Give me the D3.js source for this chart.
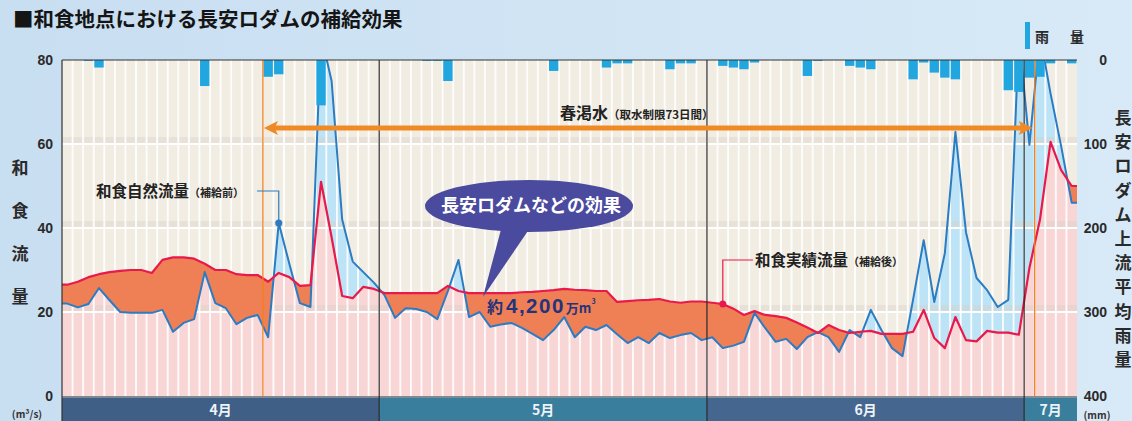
<!DOCTYPE html>
<html>
<head>
<meta charset="utf-8">
<script src="https://cdn.jsdelivr.net/npm/d3@7"></script>
<style>
  body { margin: 0; background: #cfe4f4; }
  svg { display: block; font-family: "Noto Sans CJK JP", "Noto Sans", sans-serif; }
</style>
</head>
<body>
<svg id="chart" width="1132" height="421"></svg>
<script>
// daily values, April 1 -> July 5
const months = ['4月', '5月', '6月', '7月'];
const monthDays = [30, 31, 30, 5];
const leftTicks = [0, 20, 40, 60, 80];
const rightTicks = [0, 100, 200, 300, 400];

// 和食実績流量（補給後） m3/s
const actualFlow = [
  26.5, 27.2, 28.3, 29, 29.5, 29.8, 30, 30, 29.3, 32.4,
  33, 33, 32.7, 31.5, 30, 30, 29, 28.8, 28.8, 27.2,
  29.3, 28.3, 26.2, 26.4, 51, 37.8, 23.8, 23.3, 26, 25.5,
  24.5, 24.5, 24.5, 24.5, 24.5, 24.5, 26.2, 25, 24.5, 24.5,
  24.5, 24.5, 24.5, 24.7, 24.8, 25, 25.2, 25.5, 25.3, 25.2,
  25, 25, 22.4, 22.6, 22.8, 22.9, 23.1, 22.5, 22.2, 22.5,
  22.5, 22.2, 21.9, 20.8, 19.3, 20.2, 19.3, 19, 18.6, 17.5,
  16.3, 15, 16.9, 15.7, 15, 15.3, 15.5, 14.8, 14.8, 14.8,
  15.3, 20.5, 13.8, 11.4, 18.8, 13.3, 13, 15.5, 15.1, 15.1,
  14.6, 30.5, 42, 60.5, 53.8, 50
];

// 和食自然流量（補給前） m3/s
const naturalFlow = [
  22, 21.1, 21.9, 25.7, 22.8, 20, 19.8, 19.8, 19.8, 20.5,
  15.3, 17.4, 18.3, 29.5, 22.1, 20.9, 17.1, 18.6, 19.3, 14,
  41.2, 31.5, 22.1, 21.2, 86, 75, 42, 32, 29.5, 27,
  24, 18.6, 20.9, 20.7, 20, 18.3, 25, 32.4, 18.8, 20,
  16.5, 17, 17.4, 16.2, 14.8, 13.3, 15.7, 18.8, 14, 16.5,
  15.7, 16.9, 14.7, 12.6, 14, 12.6, 15, 13.8, 14.5, 15,
  13.3, 14, 11.4, 12, 12.9, 19.8, 16.2, 12.9, 13.6, 11.2,
  14, 15.2, 14, 10.5, 15.7, 14, 20.5, 15.7, 11.4, 9.5,
  23, 37.1, 22.4, 34, 62.9, 39, 28.1, 25.2, 21.2, 22.9,
  86, 59.8, 86, 72, 59.5, 46
];

// 長安口ダム上流平均雨量 mm
const rainfall = [
  0, 0, 1, 9, 0, 0, 0, 0, 0, 0,
  0, 0, 0, 31, 0, 0, 0, 0, 0, 20,
  17, 0, 0, 0, 54, 0, 0, 0, 0, 0,
  0, 0, 0, 0, 1, 1, 25, 0, 0, 0,
  0, 0, 0, 0, 0, 0, 13, 0, 0, 0,
  0, 9, 4, 4, 0, 0, 0, 11, 4, 4,
  0, 0, 7, 9, 11, 3, 0, 0, 0, 0,
  19, 1, 0, 0, 7, 9, 11, 0, 0, 0,
  23, 3, 15, 21, 23, 0, 0, 0, 0, 36,
  38, 21, 20, 4, 0, 4
];

const nDays = d3.sum(monthDays);
const svg = d3.select('#chart');
const pL = 62, pR = 1077, pT = 60, pB = 396;

const x = d3.scaleLinear().domain([0, nDays]).range([pL, pR]);
const yL = d3.scaleLinear().domain([0, 80]).range([pB, pT]);
const yR = d3.scaleLinear().domain([0, 400]).range([pT, pB]);

const defs = svg.append('defs');
const bg = defs.append('linearGradient').attr('id', 'pagebg').attr('x1', 0).attr('x2', 1).attr('y1', 0).attr('y2', 0);
bg.append('stop').attr('offset', '0%').attr('stop-color', '#c8def1');
bg.append('stop').attr('offset', '100%').attr('stop-color', '#d8eaf7');
svg.append('rect').attr('width', 1132).attr('height', 421).attr('fill', 'url(#pagebg)');

defs.append('clipPath').attr('id', 'plotclip').append('rect')
  .attr('x', pL).attr('y', pT).attr('width', pR - pL).attr('height', pB - pT);

// points at day centres, series held flat out to the plot edges
const toPts = arr => [[0, arr[0]]].concat(arr.map((v, i) => [i + 0.5, v]), [[nDays, arr[arr.length - 1]]]);
const actPts = toPts(actualFlow), natPts = toPts(naturalFlow);

const area0 = d3.area().x(d => x(d[0])).y0(pB).y1(d => yL(d[1]));
const areaTop = d3.area().x(d => x(d[0])).y0(pT - 40).y1(d => yL(d[1]));
const between = d3.area().x(d => x(d[0])).y0((d, i) => yL(natPts[i][1])).y1(d => yL(d[1]));
const line = d3.line().x(d => x(d[0])).y(d => yL(d[1]));

defs.append('clipPath').attr('id', 'belowRed').append('path').attr('d', area0(actPts));
defs.append('clipPath').attr('id', 'aboveRed').append('path').attr('d', areaTop(actPts));

const plot = svg.append('g').attr('clip-path', 'url(#plotclip)');

// cream background
plot.append('rect').attr('x', pL).attr('y', pT).attr('width', pR - pL).attr('height', pB - pT)
  .attr('fill', '#f2ede3');

// pink under actual flow
plot.append('path').attr('d', area0(actPts)).attr('fill', '#f9d6d6');
// light blue where natural > actual
plot.append('g').attr('clip-path', 'url(#aboveRed)')
  .append('path').attr('d', between(actPts)).attr('fill', '#bde3f6');

// horizontal grid
leftTicks.filter(d => d > 0 && d < 80).forEach(t => {
  plot.append('rect').attr('x', pL).attr('y', yL(t) - 7).attr('width', pR - pL).attr('height', 7)
    .attr('fill', '#d6d0c7').attr('opacity', 0.4);
  plot.append('line').attr('x1', pL).attr('x2', pR).attr('y1', yL(t)).attr('y2', yL(t))
    .attr('stroke', '#ffffff').attr('stroke-width', 2);
});

// day stripes
plot.selectAll('.stripe').data(d3.range(1, nDays)).join('line')
  .attr('class', 'stripe')
  .attr('x1', d => x(d)).attr('x2', d => x(d))
  .attr('y1', pT).attr('y2', pB)
  .attr('stroke', '#ffffff').attr('stroke-width', 1.9).attr('opacity', 0.9);

// orange where actual > natural
plot.append('g').attr('clip-path', 'url(#belowRed)')
  .append('path').attr('d', between(actPts)).attr('fill', '#ef7f55');

// lines
plot.append('path').attr('d', line(natPts)).attr('fill', 'none')
  .attr('stroke', '#2b7cc2').attr('stroke-width', 2).attr('stroke-linejoin', 'round');
plot.append('path').attr('d', line(actPts)).attr('fill', 'none')
  .attr('stroke', '#e8194b').attr('stroke-width', 2.2).attr('stroke-linejoin', 'round');

// rainfall bars hanging from top
plot.selectAll('.rain').data(rainfall).join('rect')
  .attr('class', 'rain')
  .attr('x', (d, i) => x(i) + 0.6)
  .attr('width', x(1) - x(0) - 1.2)
  .attr('y', pT)
  .attr('height', d => yR(d) - pT)
  .attr('fill', '#22a6df');

// drought period lines
const droughtStart = 19, droughtEnd = 92;
[droughtStart, droughtEnd].forEach(d => {
  svg.append('line').attr('x1', x(d)).attr('x2', x(d)).attr('y1', pT).attr('y2', pB)
    .attr('stroke', '#f07f1c').attr('stroke-width', 1.3);
});

// month bar
const starts = monthDays.map((d, i) => d3.sum(monthDays.slice(0, i)));
const monthColors = ['#3f5f87', '#3a7e9d', '#45678f', '#3a7e9d'];
svg.selectAll('.mbar').data(months).join('rect')
  .attr('class', 'mbar')
  .attr('x', (d, i) => x(starts[i])).attr('y', 398)
  .attr('width', (d, i) => x(starts[i] + monthDays[i]) - x(starts[i])).attr('height', 23)
  .attr('fill', (d, i) => monthColors[i]);
svg.selectAll('.mlabel').data(months).join('text')
  .attr('class', 'mlabel')
  .attr('x', (d, i) => x(starts[i] + monthDays[i] / 2)).attr('y', 415)
  .attr('text-anchor', 'middle').attr('fill', '#eef3f8')
  .attr('font-size', 14).attr('font-weight', 'bold').text(d => d);

// frame
svg.append('line').attr('x1', pL).attr('x2', pR).attr('y1', pT).attr('y2', pT)
  .attr('stroke', '#333').attr('stroke-width', 1.2);
svg.append('line').attr('x1', pL).attr('x2', pL).attr('y1', pT).attr('y2', 421)
  .attr('stroke', '#333').attr('stroke-width', 1.2);
svg.append('line').attr('x1', pL).attr('x2', pR).attr('y1', 397).attr('y2', 397)
  .attr('stroke', '#333').attr('stroke-width', 1.2);
starts.slice(1).forEach(s => {
  svg.append('line').attr('x1', x(s)).attr('x2', x(s)).attr('y1', pT).attr('y2', 421)
    .attr('stroke', '#2a2a2a').attr('stroke-width', 1.2);
});

// axes
const axL = svg.append('g').attr('transform', `translate(${pL},0)`)
  .call(d3.axisLeft(yL).tickValues(leftTicks).tickSize(0).tickPadding(9));
const axR = svg.append('g').attr('transform', `translate(${pR},0)`)
  .call(d3.axisRight(yR).tickValues(rightTicks).tickSize(0).tickPadding(30));
[axL, axR].forEach(a => {
  a.select('.domain').remove();
  a.selectAll('text').attr('font-family', '"Liberation Sans", Arial, sans-serif')
    .attr('font-weight', 'bold').attr('font-size', 14).attr('fill', '#2a2a2a');
});
axR.selectAll('text').attr('text-anchor', 'end');

svg.append('text').attr('x', 27).attr('y', 418).attr('text-anchor', 'middle')
  .attr('font-size', 10).attr('font-weight', 'bold').attr('fill', '#333').text('(m³/s)');
svg.append('text').attr('x', 1097).attr('y', 419).attr('text-anchor', 'middle')
  .attr('font-size', 10).attr('font-weight', 'bold').attr('fill', '#333').text('(mm)');

// vertical axis titles
const leftTitle = '和食流量'.split('');
svg.selectAll('.ltitle').data(leftTitle).join('text')
  .attr('class', 'ltitle')
  .attr('x', 20).attr('y', (d, i) => 174 + i * 43)
  .attr('text-anchor', 'middle').attr('font-size', 17).attr('font-weight', 'bold').attr('fill', '#2a2a2a')
  .text(d => d);
const rightTitle = '長安ロダム上流平均雨量'.split('');
svg.selectAll('.rtitle').data(rightTitle).join('text')
  .attr('class', 'rtitle')
  .attr('x', 1123).attr('y', (d, i) => 124 + i * 24.2)
  .attr('text-anchor', 'middle').attr('font-size', 17).attr('font-weight', 'bold').attr('fill', '#2a2a2a')
  .text(d => d);

// title
svg.append('text').attr('x', 13).attr('y', 27)
  .attr('font-size', 20.5).attr('font-weight', 'bold').attr('fill', '#151515')
  .text('■和食地点における長安ロダムの補給効果');

// legend
svg.append('rect').attr('x', 1025).attr('y', 22).attr('width', 5).attr('height', 27).attr('fill', '#22a6df');
svg.append('text').attr('x', 1035).attr('y', 42).attr('font-size', 14).attr('font-weight', 'bold')
  .attr('fill', '#2a2a2a').text('雨');
svg.append('text').attr('x', 1070).attr('y', 42).attr('font-size', 14).attr('font-weight', 'bold')
  .attr('fill', '#2a2a2a').text('量');

// drought arrow
const ay = 128;
svg.append('line').attr('x1', x(droughtStart) + 10).attr('x2', x(droughtEnd) - 12).attr('y1', ay).attr('y2', ay)
  .attr('stroke', '#f08a24').attr('stroke-width', 5);
svg.append('path')
  .attr('d', `M${x(droughtStart) + 1},${ay} l14,-7 l-3,7 l3,7 z`)
  .attr('fill', '#f08a24');
svg.append('path')
  .attr('d', `M${x(droughtEnd) - 2},${ay} l-14,-7 l3,7 l-3,7 z`)
  .attr('fill', '#f08a24');
const dt = svg.append('text').attr('x', 560).attr('y', 119).attr('font-weight', 'bold').attr('fill', '#222');
dt.append('tspan').attr('font-size', 16).text('春渇水');
dt.append('tspan').attr('font-size', 11.5).text('（取水制限73日間）');

// natural flow callout
const nIdx = 20;
const nx = x(nIdx + 0.5), ny = yL(naturalFlow[nIdx]);
svg.append('path').attr('d', `M257,191 H${nx} V${ny}`).attr('fill', 'none')
  .attr('stroke', '#2b7cc2').attr('stroke-width', 1.2);
svg.append('circle').attr('cx', nx).attr('cy', ny).attr('r', 3.5).attr('fill', '#2b7cc2');
const nt = svg.append('text').attr('x', 96).attr('y', 197).attr('font-weight', 'bold').attr('fill', '#222');
nt.append('tspan').attr('font-size', 15.5).text('和食自然流量');
nt.append('tspan').attr('font-size', 11).text('（補給前）');

// actual flow callout
const aIdx = 62;
const ax = x(aIdx + 0.5), ayy = yL(actualFlow[aIdx]);
svg.append('path').attr('d', `M753,260 H${ax} V${ayy}`).attr('fill', 'none')
  .attr('stroke', '#e8194b').attr('stroke-width', 1.2);
svg.append('circle').attr('cx', ax).attr('cy', ayy).attr('r', 3.5).attr('fill', '#e8194b');
const at = svg.append('text').attr('x', 755).attr('y', 266).attr('font-weight', 'bold').attr('fill', '#222');
at.append('tspan').attr('font-size', 15.5).text('和食実績流量');
at.append('tspan').attr('font-size', 11).text('（補給後）');

// speech bubble
svg.append('path').attr('d', 'M503,222 L534,222 L483,297 Z').attr('fill', '#4a4a9e');
svg.append('ellipse').attr('cx', 529).attr('cy', 206).attr('rx', 104).attr('ry', 26).attr('fill', '#4a4a9e');
svg.append('text').attr('x', 531).attr('y', 212).attr('text-anchor', 'middle')
  .attr('font-size', 18).attr('font-weight', 'bold').attr('fill', '#ffffff').text('長安ロダムなどの効果');

const vt = svg.append('text').attr('x', 487).attr('y', 313).attr('font-weight', 'bold').attr('fill', '#24337c');
vt.append('tspan').attr('font-size', 16).text('約');
vt.append('tspan').attr('dx', 3).attr('font-size', 20.5).attr('letter-spacing', 1.5)
  .attr('font-family', '"Liberation Sans", Arial, sans-serif').text('4,200');
vt.append('tspan').attr('dx', 1).attr('font-size', 13).text('万m');
vt.append('tspan').attr('font-size', 7).attr('dy', -9).text('3');
</script>
</body>
</html>
